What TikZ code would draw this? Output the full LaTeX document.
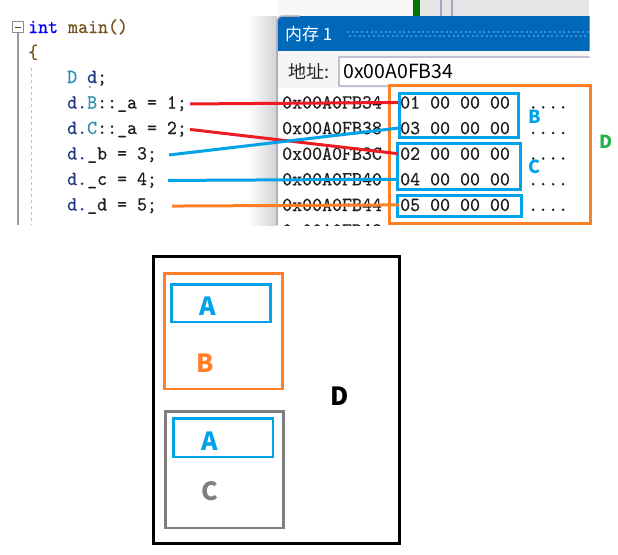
\documentclass[tikz,border=0pt]{standalone}
\usepackage{fontspec}
\newfontfamily\cjk{Noto Sans CJK SC}
\newfontfamily\codemono{lmmono10-regular.otf}[FakeBold=0.4,FakeStretch=0.95]
\usepackage{tikz}
\usetikzlibrary{positioning,calc}

\definecolor{pblue}{HTML}{00A2E8}
\definecolor{porange}{HTML}{FF7F27}
\definecolor{pgreen}{HTML}{22B14C}
\definecolor{pred}{HTML}{ED1C24}
\definecolor{pgray}{HTML}{7F7F7F}
\definecolor{vskey}{HTML}{0000FF}
\definecolor{vstype}{HTML}{2B91AF}
\definecolor{vsvar}{HTML}{1F377F}
\definecolor{vsfunc}{HTML}{74531F}
\definecolor{vstext}{HTML}{1E1E1E}
\definecolor{titlebar}{HTML}{0068B8}
\definecolor{titledots}{HTML}{3D8ED6}
\definecolor{frame}{HTML}{A4A8C0}

\newcommand\codefont{\codemono\fontsize{20}{20}\selectfont}
\newcommand\uifont{\cjk\fontsize{18}{18}\selectfont}

\begin{document}
\begin{tikzpicture}[x=1pt, y=-1pt,
    code/.style={anchor=base west, inner sep=0pt, font=\codefont, text=vstext},
    memline/.style={anchor=base west, inner sep=0pt, font=\codefont, text=vstext},
    tag/.style={inner sep=0pt, font=\uifont},
    bigtag/.style={inner sep=0pt, font=\cjk\fontsize{25}{25}\selectfont\bfseries},
    membox/.style={draw=pblue, line width=3pt},
    link/.style={line width=3pt}
]
\useasboundingbox (0,0) rectangle (618,554);

% Code editor
\draw[black!40, line width=1.2pt] (18,33) -- (18,225);
\draw[black!25, line width=1pt, dash pattern=on 3pt off 3pt] (31,68) -- (31,225);
\draw[black!45, fill=white, line width=1pt] (12.5,21.5) rectangle (23.5,32.5);
\draw[black!70, line width=1pt] (15,27) -- (21,27);

\node[code] (c0) at (28,33) {\textcolor{vskey}{int} \textcolor{vsfunc}{main()}};
\node[code] (cb) at (28,58.5) {\textcolor{vsfunc}{\{}};
\node[code] (c1) at (67,83) {\textcolor{vstype}{D} \textcolor{vsvar}{d};};
\node[code] (c2) at (67,108.5) {\textcolor{vsvar}{d.}\textcolor{vstype}{B}::\_a = 1;};
\node[code] (c3) at (67,134) {\textcolor{vsvar}{d.}\textcolor{vstype}{C}::\_a = 2;};
\node[code] (c4) at (67,159.5) {\textcolor{vsvar}{d.}\_b = 3;};
\node[code] (c5) at (67,185) {\textcolor{vsvar}{d.}\_c = 4;};
\node[code] (c6) at (67,210.5) {\textcolor{vsvar}{d.}\_d = 5;};
\fill[black!45] (90,87) circle (1.2);

% Memory window
\begin{scope}
\clip (240,0) rectangle (589.5,225);
\shade[left color=white, right color=black!18] (248,16) rectangle (277,225);
\fill[black!6] (278,0) rectangle (589,16);
\fill[black!3] (278,0) rectangle (413,16);
\fill[black!10] (420,0) rectangle (589,16);
\fill[green!45!black] (413,0) rectangle (420,16);
\draw[frame, line width=1.5pt] (441,0) -- (441,16);
\draw[frame, line width=1.5pt] (452,0) -- (452,16);
\fill[titlebar] (277,51) [rounded corners=6pt] -- (277,16) -- (600,16) [sharp corners] -- (600,51) -- cycle;
\foreach \i in {0,...,52} {
    \fill[titledots] ({347+4.7*\i},30.5) rectangle +(2,2);
    \fill[titledots] ({349.3+4.7*\i},34.5) rectangle +(2,2);
}
\node[tag, anchor=west, text=white, font=\cjk\fontsize{17}{17}\selectfont] (title) at (285,34) {内存 1};
\fill[black!4] (278,51) rectangle (589,88);
\draw[frame!70, fill=white, line width=1.5pt] (339,57) rectangle (600,86);
\node[tag, anchor=west, text=black!85] (addrlbl) at (288,71) {地址:};
\node[tag, anchor=west, text=black, font=\cjk\fontsize{19.5}{19.5}\selectfont] (addr) at (343,71) {0x00A0FB34};
\fill[white] (278,88) rectangle (589,225);
\draw[frame, line width=1.5pt] (277,225) -- (277,22) [rounded corners=6pt] -- (277,16) -- (300,16);

% Memory rows
\node[memline] (a1) at (282,108.6) {0x00A0FB34};
\node[memline] (a2) at (282,134.2) {0x00A0FB38};
\node[memline] (a3) at (282,159.8) {0x00A0FB3C};
\node[memline] (a4) at (282,185.4) {0x00A0FB40};
\node[memline] (a5) at (282,211) {0x00A0FB44};
\node[memline] (a6) at (282,236.6) {0x00A0FB48};
\node[memline] (m1) at (400,108.6) {01 00 00 00};
\node[memline] (m2) at (400,134.2) {03 00 00 00};
\node[memline] (m3) at (400,159.8) {02 00 00 00};
\node[memline] (m4) at (400,185.4) {04 00 00 00};
\node[memline] (m5) at (400,211) {05 00 00 00};
\node[memline] (d1) at (528,108.6) {....};
\node[memline] (d2) at (528,134.2) {....};
\node[memline] (d3) at (528,159.8) {....};
\node[memline] (d4) at (528,185.4) {....};
\node[memline] (d5) at (528,211) {....};
\end{scope}

% Layout boxes in memory
\draw[porange, line width=3pt] (389.5,85) rectangle (590,223.5);
\draw[membox] (399,93.5) rectangle (518.5,137.5);
\draw[membox] (397.5,143.3) rectangle (520,189.3);
\draw[membox] (397,195) rectangle (521,216.5);
\node[tag, text=pblue, font=\uifont\bfseries] (lblB) at (535,116.5) {B};
\node[tag, text=pblue, font=\uifont\bfseries] (lblC) at (534,166.5) {C};
\node[tag, text=pgreen, font=\uifont\bfseries] (lblD) at (606,142) {D};

% Assignments to memory
\draw[link, pred] ([xshift=3pt]c2.east) -- ([xshift=-2pt]m1.west);
\draw[link, pred] ([xshift=3pt]c3.east) -- ([xshift=-2pt]m3.west);
\draw[link, pblue] ([xshift=12pt]c4.east) -- ([xshift=-2pt]m2.west);
\draw[link, pblue] ([xshift=11pt]c5.east) -- ([xshift=-2pt]m4.west);
\draw[link, porange] ([xshift=15pt]c6.east) -- ([xshift=-1pt]m5.west);

% Object model of D
\draw[black, line width=3pt] (153.8,256.5) rectangle (399.5,543.3);
\draw[porange, line width=2.7pt] (164.7,273.7) rectangle (282.3,389);
\draw[pblue, line width=2.7pt] (171.3,284.3) rectangle (270.3,322);
\draw[pgray, line width=2.7pt] (165.7,411.7) rectangle (283.7,528);
\draw[pblue, line width=2.7pt] (173.3,418.7) rectangle (273,457);
\node[bigtag, text=pblue] (A1) at (207.5,306) {A};
\node[bigtag, text=porange] (B) at (205.5,363.5) {B};
\node[bigtag, text=pblue] (A2) at (209.5,441.3) {A};
\node[bigtag, text=pgray] (C) at (209.7,491.3) {C};
\node[bigtag, text=black] (D) at (340,395.8) {D};
\end{tikzpicture}
\end{document}
